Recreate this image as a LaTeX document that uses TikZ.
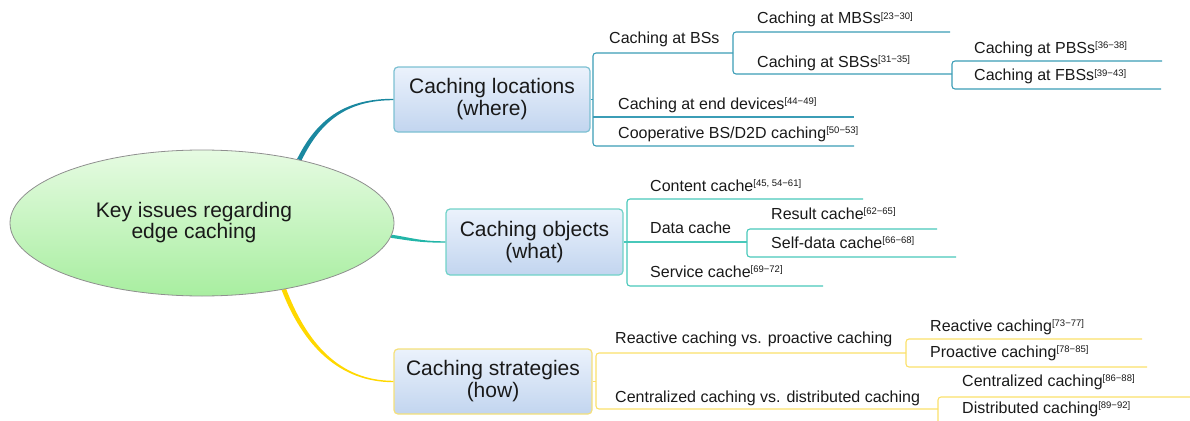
\documentclass[tikz,border=0pt]{standalone}
\usepackage{fontspec}
\setmainfont{Liberation Sans}
\usetikzlibrary{calc,shapes.geometric}

\definecolor{whereln}{HTML}{3B9DB6}
\definecolor{wherelink}{HTML}{1A88A0}
\definecolor{whereedge}{HTML}{7CC0D2}
\definecolor{whatln}{HTML}{48C8BA}
\definecolor{whatlink}{HTML}{22B5A8}
\definecolor{whatedge}{HTML}{70D2C8}
\definecolor{howln}{HTML}{FBE06A}
\definecolor{howlink}{HTML}{FFD800}
\definecolor{howedge}{HTML}{F5E07A}
\definecolor{boxtop}{HTML}{EBF2FC}
\definecolor{boxbot}{HTML}{C2D5EF}
\definecolor{roottop}{HTML}{E6FBE2}
\definecolor{rootbot}{HTML}{A8EEA0}
\definecolor{rootedge}{HTML}{8F8F8F}

% reference numbers set as small raised brackets
\newcommand\refnum[1]{\raisebox{4.8pt}{\fontsize{9.5}{10}\selectfont[#1]}}

% tapered branch: #1 colour, #2 start, #3 first control, #4 second control,
% #5 end, #6 half width at start, #7 half width at end
\newcommand\taperlink[7]{%
  \fill[#1] ($(#2)!#6!90:(#3)$)
    .. controls ($(#3)!#6!90:(#4)$) and ($(#4)!#7!90:(#5)$) .. ($(#5)!#7!-90:(#4)$)
    -- ($(#5)!#7!90:(#4)$)
    .. controls ($(#4)!#7!-90:(#5)$) and ($(#3)!#6!-90:(#4)$) .. ($(#2)!#6!-90:(#3)$)
    -- cycle;}

\tikzset{
  leaf/.style={font=\fontsize{16}{18}\selectfont, inner sep=0pt, anchor=base west, text=black!90},
  topic/.style={draw, line width=1.2pt, rounded corners=4pt, top color=boxtop, bottom color=boxbot,
    align=center, inner sep=0pt, font=\fontsize{21}{22}\selectfont, text=black!90},
  rootshape/.style={ellipse, minimum width=384pt, minimum height=146pt, inner sep=0pt},
  rootnode/.style={rootshape, draw=rootedge, line width=0.8pt, top color=roottop, bottom color=rootbot},
  roottext/.style={align=center, inner sep=0pt, font=\fontsize{21}{21}\selectfont, text=black!90},
  whereline/.style={draw=whereln, line width=1.1pt},
  whatline/.style={draw=whatln, line width=1.1pt},
  howline/.style={draw=howln, line width=1.1pt},
  bracket/.style={rounded corners=3pt}
}

\begin{document}
\begin{tikzpicture}[x=1pt, y=-1pt]
\useasboundingbox (0,0) rectangle (1190,420);
\clip (0,0) rectangle (1190,420);

% topic boxes
\node[topic, draw=whereedge, minimum width=196pt, minimum height=65pt] (loc) at (492,99.5)
  {Caching locations\\(where)};
\node[topic, draw=whatedge, minimum width=177pt, minimum height=66pt] (obj) at (534.5,242)
  {Caching objects\\(what)};
\node[topic, draw=howedge, minimum width=198pt, minimum height=65pt] (str) at (493,381.5)
  {Caching strategies\\(how)};

% outline of the central ellipse, used for its anchors; it is painted over the branches later
\path node[rootshape] (root) at (202,223) {};

% branches from the centre to the topics
\coordinate (l1a) at (root.33);
\coordinate (l1b) at ($(l1a)+(21,-43)$);
\coordinate (l1c) at ($(loc.west)+(-44,0)$);
\taperlink{wherelink}{l1a}{l1b}{l1c}{loc.west}{2.3pt}{0.7pt}

\coordinate (l2a) at (root.-4);
\coordinate (l2b) at ($(l2a)+(20,3)$);
\coordinate (l2c) at ($(obj.west)+(-25,0)$);
\taperlink{whatlink}{l2a}{l2b}{l2c}{obj.west}{1.6pt}{0.7pt}

\coordinate (l3a) at (root.-39);
\coordinate (l3b) at ($(l3a)+(21,55)$);
\coordinate (l3c) at ($(str.west)+(-54,0)$);
\taperlink{howlink}{l3a}{l3b}{l3c}{str.west}{2.3pt}{0.7pt}

\node[rootnode] (rootface) at (root.center) {};
\node[roottext] (roottitle) at ($(root.center)+(-8,0)$) {Key issues regarding\\edge caching};

% ---- caching locations ----
\coordinate (bs-s) at (593,53);    \coordinate (bs-e) at (733,53);
\coordinate (mbs-s) at (733,32);   \coordinate (mbs-e) at (950,32);
\coordinate (sbs-s) at (733,74);   \coordinate (sbs-e) at (952,74);
\coordinate (pbs-s) at (952,61);   \coordinate (pbs-e) at (1162,61);
\coordinate (fbs-s) at (952,89);   \coordinate (fbs-e) at (1161,89);
\coordinate (end-s) at (593,117);  \coordinate (end-e) at (854,117);
\coordinate (coop-s) at (593,146); \coordinate (coop-e) at (854,146);

\draw[whereline] (loc.east) -- (loc.east -| bs-s);
\draw[whereline, bracket] (bs-e) -- (bs-s) -- (coop-s) -- (coop-e);
\draw[whereline] (end-s) -- (end-e);
\draw[whereline, bracket] (mbs-e) -- (mbs-s) -- (sbs-s) -- (sbs-e);
\draw[whereline, bracket] (pbs-e) -- (pbs-s) -- (fbs-s) -- (fbs-e);

\node[leaf] (bs) at (609,44) {Caching at BSs};
\node[leaf] (mbs) at (757,24) {Caching at MBSs\refnum{23−30}};
\node[leaf] (sbs) at (757,67) {Caching at SBSs\refnum{31−35}};
\node[leaf] (pbs) at (974,53) {Caching at PBSs\refnum{36−38}};
\node[leaf] (fbs) at (974,81) {Caching at FBSs\refnum{39−43}};
\node[leaf] (enddev) at (618,109) {Caching at end devices\refnum{44−49}};
\node[leaf] (coop) at (618,138) {Cooperative BS/D2D caching\refnum{50−53}};

% ---- caching objects ----
\coordinate (con-s) at (627,199);  \coordinate (con-e) at (863,199);
\coordinate (dat-s) at (627,242);  \coordinate (dat-e) at (747,242);
\coordinate (ser-s) at (627,286);  \coordinate (ser-e) at (823,286);
\coordinate (res-s) at (747,229);  \coordinate (res-e) at (937,229);
\coordinate (sel-s) at (747,257);  \coordinate (sel-e) at (956,257);

\draw[whatline] (obj.east) -- (obj.east -| con-s);
\draw[whatline, bracket] (con-e) -- (con-s) -- (ser-s) -- (ser-e);
\draw[whatline] (dat-s) -- (dat-e);
\draw[whatline, bracket] (res-e) -- (res-s) -- (sel-s) -- (sel-e);

\node[leaf] (content) at (650,191) {Content cache\refnum{45, 54−61}};
\node[leaf] (data) at (650,233) {Data cache};
\node[leaf] (service) at (650,277) {Service cache\refnum{69−72}};
\node[leaf] (result) at (771,219) {Result cache\refnum{62−65}};
\node[leaf] (self) at (771,248) {Self-data cache\refnum{66−68}};

% ---- caching strategies ----
\coordinate (rp-s) at (596,353);   \coordinate (rp-e) at (906,353);
\coordinate (cd-s) at (596,409);   \coordinate (cd-e) at (938,409);
\coordinate (rea-s) at (906,339);  \coordinate (rea-e) at (1142,339);
\coordinate (pro-s) at (906,367);  \coordinate (pro-e) at (1147,367);
\coordinate (cen-s) at (938,397);  \coordinate (cen-e) at (1195,397);
\coordinate (dis-s) at (938,424);  \coordinate (dis-e) at (1195,424);

\draw[howline] (str.east) -- (str.east -| rp-s);
\draw[howline, bracket] (rp-e) -- (rp-s) -- (cd-s) -- (cd-e);
\draw[howline, bracket] (rea-e) -- (rea-s) -- (pro-s) -- (pro-e);
\draw[howline, bracket] (cen-e) -- (cen-s) -- (dis-s) -- (dis-e);

\node[leaf] (rvp) at (615,343) {Reactive caching vs. proactive caching};
\node[leaf] (cvd) at (615,402) {Centralized caching vs. distributed caching};
\node[leaf] (reactive) at (930,331) {Reactive caching\refnum{73−77}};
\node[leaf] (proactive) at (930,357) {Proactive caching\refnum{78−85}};
\node[leaf] (central) at (962,386) {Centralized caching\refnum{86−88}};
\node[leaf] (distrib) at (962,413) {Distributed caching\refnum{89−92}};
\end{tikzpicture}
\end{document}
